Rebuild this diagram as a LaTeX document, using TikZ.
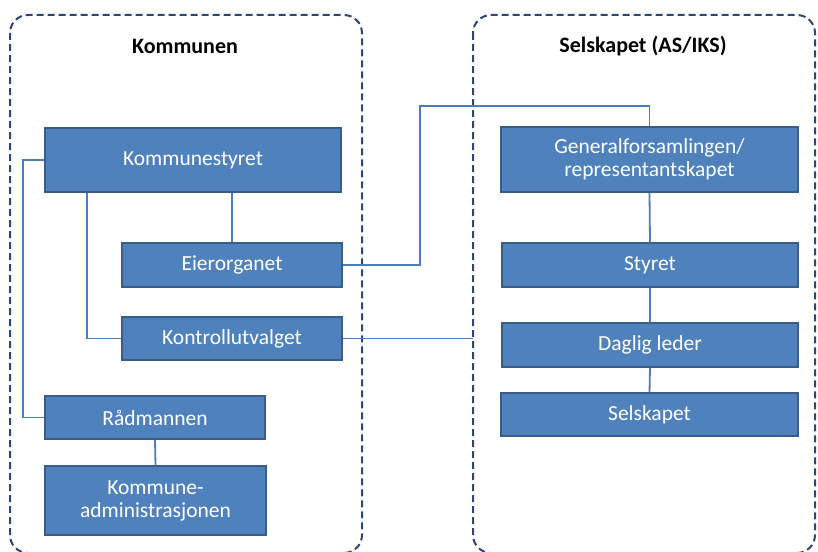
\documentclass[tikz,border=0pt]{standalone}
\usepackage{fontspec}
\setmainfont{Carlito}
\definecolor{boxfill}{HTML}{4F81BD}
\definecolor{boxline}{HTML}{385D8A}
\definecolor{conn}{HTML}{4A7EBB}
\definecolor{frame}{HTML}{2C4770}
\begin{document}
\begin{tikzpicture}[x=1pt,y=-1pt,
  orgbox/.style={draw=boxline,fill=boxfill,line width=1.5pt,inner sep=0pt,
    text=white,align=center,font=\fontsize{21.5}{23}\selectfont},
  link/.style={draw=conn,line width=1.8pt},
  frm/.style={draw=frame,line width=2pt,dash pattern=on 7pt off 4pt,rounded corners=18pt},
  ttl/.style={font=\fontsize{22}{24}\selectfont\bfseries,text=black}]
\useasboundingbox[fill=white] (0,0) rectangle (818,551);
% frames
\draw[frm] (10,15) rectangle (362,553);
\draw[frm] (473,15) rectangle (815,553);
\node[ttl] (t1) at (185,46) {Kommunen};
\node[ttl] (t2) at (643,46) {Selskapet (AS/IKS)};
% left boxes
\node[orgbox,minimum width=296pt,minimum height=64pt] (ks) at (193,160) {Kommunestyret};
\node[orgbox,minimum width=220pt,minimum height=44pt] (eier) at (232,265) {Eierorganet};
\node[orgbox,minimum width=220pt,minimum height=43pt] (ktr) at (232,338.5) {Kontrollutvalget};
\node[orgbox,minimum width=220pt,minimum height=43pt] (rad) at (155,417.5) {Rådmannen};
\node[orgbox,minimum width=221pt,minimum height=69pt] (adm) at (155.5,500.5) {Kommune-\\administrasjonen};
% right boxes
\node[orgbox,minimum width=297pt,minimum height=65pt] (gf) at (649.5,159.5) {Generalforsamlingen/\\representantskapet};
\node[orgbox,minimum width=296pt,minimum height=44pt] (sty) at (650,265) {Styret};
\node[orgbox,minimum width=296pt,minimum height=44pt] (dl) at (650,345) {Daglig leder};
\node[orgbox,minimum width=297pt,minimum height=43pt] (sel) at (649.5,414.5) {Selskapet};
% connector helpers
\coordinate (c1) at (420,106);
\coordinate (kend) at (473,338.5);
\coordinate (lx) at (23,0);
\coordinate (mx) at (87,0);
% connectors
\draw[link] (ks.west) -| (lx |- rad.west) -- (rad.west);
\draw[link] (ks.south -| mx) |- (ktr.west);
\draw[link] (ks.south -| eier.north) -- (eier.north);
\draw[link] (eier.east) -| (c1) -| (gf.north);
\draw[link] (ktr.east) -- (kend);
\draw[link] (gf.south) -- (sty.north);
\draw[link] (sty.south) -- (dl.north);
\draw[link] (dl.south) -- (sel.north);
\draw[link] (rad.south) -- (adm.north);
\end{tikzpicture}
\end{document}
